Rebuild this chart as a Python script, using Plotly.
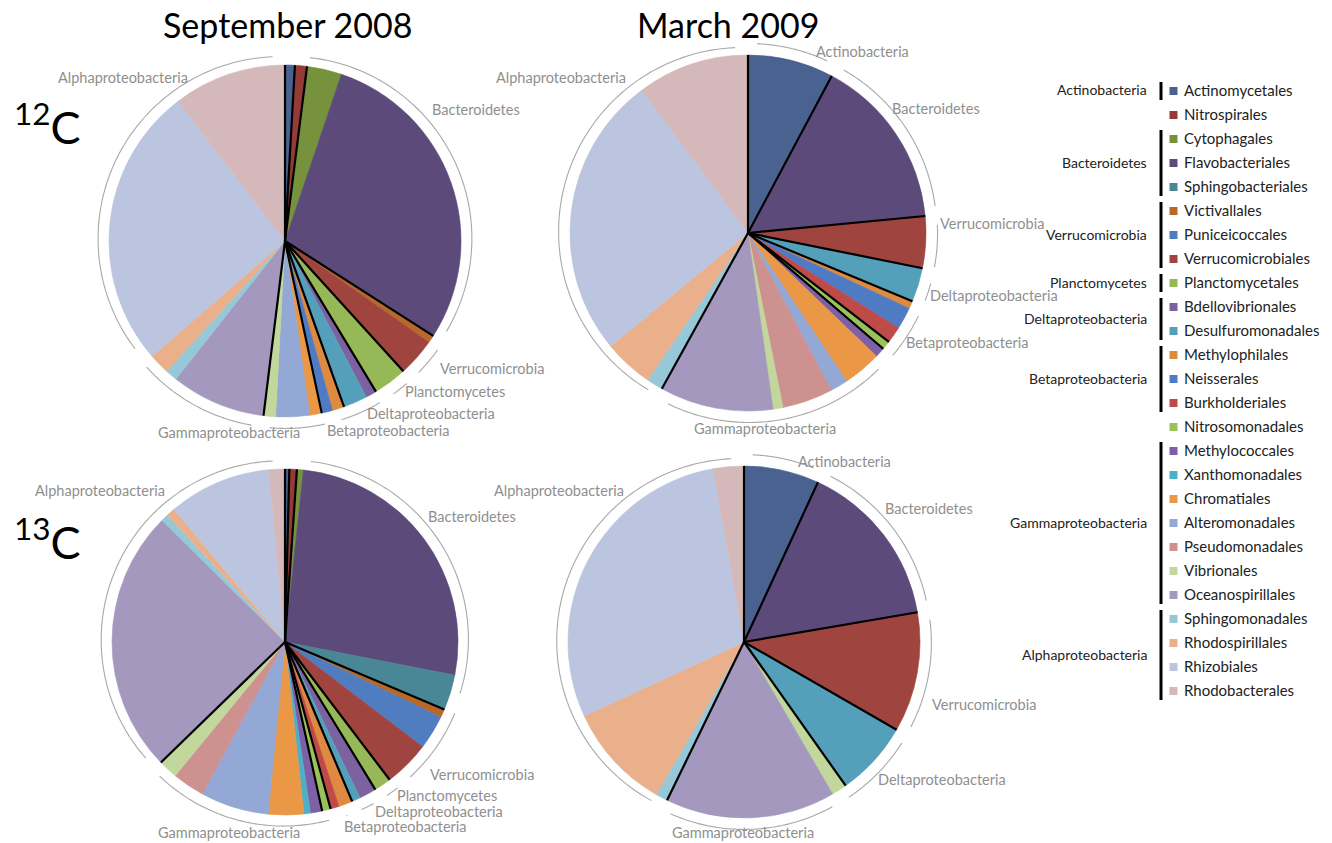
import math
import plotly.graph_objects as go

W, H = 1332, 843          # browser window (page margin removed by post_script)
FONT = "Lato"


def px(x):
    return x / W


def py(y):
    return 1 - y / H


# ---------------- data ----------------
ORDERS = ["Actinomycetales", "Nitrospirales", "Cytophagales", "Flavobacteriales",
          "Sphingobacteriales", "Victivallales", "Puniceicoccales", "Verrucomicrobiales",
          "Planctomycetales", "Bdellovibrionales", "Desulfuromonadales", "Methylophilales",
          "Neisserales", "Burkholderiales", "Nitrosomonadales", "Methylococcales",
          "Xanthomonadales", "Chromatiales", "Alteromonadales", "Pseudomonadales",
          "Vibrionales", "Oceanospirillales", "Sphingomonadales", "Rhodospirillales",
          "Rhizobiales", "Rhodobacterales"]

PHYLUM_OF_ORDER = ["Actinobacteria", None,
                   "Bacteroidetes", "Bacteroidetes", "Bacteroidetes",
                   "Verrucomicrobia", "Verrucomicrobia", "Verrucomicrobia",
                   "Planctomycetes",
                   "Deltaproteobacteria", "Deltaproteobacteria",
                   "Betaproteobacteria", "Betaproteobacteria", "Betaproteobacteria",
                   None,
                   "Gammaproteobacteria", "Gammaproteobacteria", "Gammaproteobacteria",
                   "Gammaproteobacteria", "Gammaproteobacteria", "Gammaproteobacteria",
                   "Gammaproteobacteria",
                   "Alphaproteobacteria", "Alphaproteobacteria", "Alphaproteobacteria",
                   "Alphaproteobacteria"]

PHYLA = ["Actinobacteria", "Bacteroidetes", "Verrucomicrobia", "Planctomycetes",
         "Deltaproteobacteria", "Betaproteobacteria", "Gammaproteobacteria",
         "Alphaproteobacteria"]

# order-level composition (% of clones), clockwise from 12 o'clock
SEP_12C = [0.9, 1.1, 3.2, 28.9, 0, 0.7, 0, 3.5, 3.1, 1.0, 2.2, 1.1, 1.0, 0, 0, 0, 0,
           1.1, 3.1, 0, 1.1, 8.7, 1.1, 1.9, 26.0, 10.4]
MAR_12C = [7.8, 0, 0, 15.7, 0, 0, 0, 4.7, 0, 0, 3.1, 0.7, 2.0, 1.5, 0.8, 0.9, 0,
           3.5, 1.6, 4.6, 0.9, 10.3, 1.5, 4.5, 25.8, 10.2]
SEP_13C = [0.4, 0.7, 0.6, 26.4, 3.3, 0.8, 3.2, 4.3, 1.6, 1.6, 0.8, 1.3, 0, 0.8, 0.8,
           1.1, 0.6, 3.3, 6.4, 3.0, 1.8, 24.7, 0.7, 0.8, 9.6, 1.5]
MAR_13C = [6.9, 0, 0, 15.4, 0, 0, 0, 11.0, 0, 0, 6.9, 0, 0, 0, 0, 0, 0, 0, 0, 0,
           1.4, 15.6, 1.1, 9.8, 29.1, 2.8]

# phylum-level outer ring (% , order of PHYLA)
RING_SEP_12C = [1.1, 33.1, 3.9, 2.8, 5.0, 6.2, 12.0, 36.0]
RING_MAR_12C = [7.6, 16.0, 5.0, 0, 2.9, 5.4, 21.0, 42.1]
RING_SEP_13C = [1.25, 29.3, 8.3, 2.5, 2.5, 1.4, 17.6, 37.15]
RING_MAR_13C = [6.8, 15.5, 11.0, 0, 8.0, 0, 16.0, 42.7]

# phylum outlines (black radial lines) in the September pies group Oceanospirillales with Alpha
OUTLINE_REASSIGN = {"Sep": {"Oceanospirillales": "Alphaproteobacteria"}}

TITLES = ["September 2008", "March 2009"]
ISOTOPES = ["12", "13"]

# ---------------- styles ----------------
ORDER_COLORS = ["#4A6290", "#943A37", "#76923C", "#5C4A7A", "#4A8796", "#B7692B",
                "#4F7DBF", "#A0443F", "#97B857", "#7D62A0", "#549FBA", "#DE8A40",
                "#4F7BC4", "#BE4B48", "#9BC25A", "#7E60A6", "#4DB0C8", "#EA9746",
                "#93A8D4", "#CD9190", "#C2D79C", "#A598BE", "#97C8D8", "#EAB08C",
                "#BCC5DF", "#D5B9BA"]
LABEL_GREY = "#8F8F8F"
R_MAX = 1.10

# label placement (theta deg clockwise from top, radius in pie units, anchor side)
LABELS_SEP_12C = [("Alphaproteobacteria", 329.9, 1.077, "right"),
                  ("Bacteroidetes", 47.7, 1.114, "left"),
                  ("Verrucomicrobia", 129.7, 1.13, "left"),
                  ("Planctomycetes", 141.8, 1.085, "left"),
                  ("Deltaproteobacteria", 155.1, 1.078, "left"),
                  ("Betaproteobacteria", 168.1, 1.098, "left"),
                  ("Gammaproteobacteria", 196.3, 1.131, "center")]
LABELS_MAR_12C = [("Actinobacteria", 19.9, 1.085, "left"),
                  ("Alphaproteobacteria", 322.3, 1.105, "right"),
                  ("Bacteroidetes", 48.7, 1.06, "left"),
                  ("Verrucomicrobia", 87.1, 1.067, "left"),
                  ("Deltaproteobacteria", 109.1, 1.068, "left"),
                  ("Betaproteobacteria", 125.1, 1.069, "left"),
                  ("Gammaproteobacteria", 175.1, 1.101, "center")]
LABELS_SEP_13C = [("Alphaproteobacteria", 322.1, 1.111, "right"),
                  ("Bacteroidetes", 48.3, 1.092, "left"),
                  ("Verrucomicrobia", 132.8, 1.126, "left"),
                  ("Planctomycetes", 144.3, 1.09, "left"),
                  ("Deltaproteobacteria", 152.5, 1.103, "left"),
                  ("Betaproteobacteria", 162.8, 1.115, "left"),
                  ("Gammaproteobacteria", 196.4, 1.147, "center")]
LABELS_MAR_13C = [("Actinobacteria", 16.1, 1.066, "left"),
                  ("Alphaproteobacteria", 322.1, 1.09, "right"),
                  ("Bacteroidetes", 46.2, 1.094, "left"),
                  ("Verrucomicrobia", 108.6, 1.115, "left"),
                  ("Deltaproteobacteria", 136.2, 1.084, "left"),
                  ("Gammaproteobacteria", 180.3, 1.084, "center")]

PIES = [
    dict(sub="polar", values=SEP_12C, ring=RING_SEP_12C, season="Sep", cx=285, cy=241, R=176, labels=LABELS_SEP_12C),
    dict(sub="polar2", values=MAR_12C, ring=RING_MAR_12C, season="Mar", cx=748, cy=233, R=178, labels=LABELS_MAR_12C),
    dict(sub="polar3", values=SEP_13C, ring=RING_SEP_13C, season="Sep", cx=285, cy=642, R=173, labels=LABELS_SEP_13C),
    dict(sub="polar4", values=MAR_13C, ring=RING_MAR_13C, season="Mar", cx=744, cy=642, R=176, labels=LABELS_MAR_13C),
]


def cumulative(values):
    tot = float(sum(values))
    out, c = [], 0.0
    for v in values:
        a0 = c / tot * 360.0
        c += v
        out.append((a0, c / tot * 360.0))
    return out


def ring_arc(a0, a1, ra=1.035, d=0.03, trim=2.4, n=80):
    if a1 - a0 <= 2 * trim:
        return [], []
    m = math.radians((a0 + a1) / 2)
    rs, ts = [], []
    for k in range(n):
        t = math.radians(a0 + trim + (a1 - a0 - 2 * trim) * k / (n - 1))
        x = d * math.sin(m) + ra * math.sin(t)
        y = d * math.cos(m) + ra * math.cos(t)
        rs.append(math.hypot(x, y))
        ts.append(math.degrees(math.atan2(x, y)) % 360)
    return rs, ts


def clamp01(v):
    return min(1.0, max(0.0, v))


fig = go.Figure()
layout_polars = {}
annotations = []
shapes = []

for p in PIES:
    sub = p["sub"]
    spans = cumulative(p["values"])
    # slices
    th, wd, cols, names = [], [], [], []
    for i, (a0, a1) in enumerate(spans):
        if a1 - a0 <= 0:
            continue
        th.append((a0 + a1) / 2)
        wd.append(a1 - a0)
        cols.append(ORDER_COLORS[i])
        names.append(ORDERS[i])
    fig.add_trace(go.Barpolar(r=[1] * len(th), theta=th, width=wd, base=0,
                              marker=dict(color=cols, line=dict(color=cols, width=0.6)),
                              hovertext=names, hoverinfo="text", subplot=sub, showlegend=False))
    # black phylum outlines
    reassign = OUTLINE_REASSIGN.get(p["season"], {})
    nz = [i for i, (a0, a1) in enumerate(spans) if a1 - a0 > 0]
    grp = {i: reassign.get(ORDERS[i], PHYLUM_OF_ORDER[i] or ORDERS[i]) for i in nz}
    lr, lt = [], []
    for k, i in enumerate(nz):
        prev = nz[k - 1]
        if grp[prev] != grp[i]:
            ang = spans[i][0]
            lr += [0, 1, None]
            lt += [ang, ang, None]
    fig.add_trace(go.Scatterpolar(r=lr, theta=lt, mode="lines",
                                  line=dict(color="black", width=2.2),
                                  hoverinfo="skip", subplot=sub, showlegend=False))
    # outer grey phylum brackets
    rr, rt = [], []
    for (a0, a1) in cumulative(p["ring"]):
        r_, t_ = ring_arc(a0, a1)
        if r_:
            rr += r_ + [None]
            rt += t_ + [None]
    fig.add_trace(go.Scatterpolar(r=rr, theta=rt, mode="lines",
                                  line=dict(color="#A8A8A8", width=1.1),
                                  hoverinfo="skip", subplot=sub, showlegend=False))
    # phylum labels (placed around the pie)
    for text, theta, rad, side in p["labels"]:
        t = math.radians(theta)
        lx = p["cx"] + rad * p["R"] * math.sin(t)
        ly = p["cy"] - rad * p["R"] * math.cos(t)
        annotations.append(dict(text=text, x=px(lx), y=py(ly), xref="paper", yref="paper",
                                xanchor=side, yanchor="middle", showarrow=False,
                                font=dict(family=FONT, size=14.5, color=LABEL_GREY)))
    half = p["R"] * R_MAX
    layout_polars[sub] = dict(
        domain=dict(x=[clamp01(px(p["cx"] - half)), clamp01(px(p["cx"] + half))],
                    y=[clamp01(py(p["cy"] + half)), clamp01(py(p["cy"] - half))]),
        bgcolor="rgba(0,0,0,0)", bargap=0, hole=0,
        radialaxis=dict(range=[0, R_MAX], visible=False, showgrid=False, showline=False,
                        showticklabels=False, ticks=""),
        angularaxis=dict(visible=False, rotation=90, direction="clockwise",
                         showgrid=False, showline=False, showticklabels=False, ticks=""))

# column titles and row labels
for title, xc in zip(TITLES, [287, 728]):
    annotations.append(dict(text=title, x=px(xc), y=py(24), xref="paper", yref="paper",
                            xanchor="center", yanchor="middle", showarrow=False,
                            font=dict(family=FONT, size=34, color="black")))
for iso, yc in zip(ISOTOPES, [124, 539]):
    annotations.append(dict(text="<sup>%s</sup>C" % iso, x=px(12), y=py(yc),
                            xref="paper", yref="paper", xanchor="left", yanchor="middle",
                            showarrow=False, font=dict(family=FONT, size=45, color="black")))

# custom grouped legend
ROW0, ROW_STEP = 90, 24
for i, (name, col) in enumerate(zip(ORDERS, ORDER_COLORS)):
    y = ROW0 + ROW_STEP * i
    shapes.append(dict(type="rect", xref="paper", yref="paper",
                       x0=px(1169.5), x1=px(1177.5), y0=py(y + 5), y1=py(y - 3),
                       fillcolor=col, line=dict(width=0)))
    annotations.append(dict(text=name, x=px(1182), y=py(y), xref="paper", yref="paper",
                            xanchor="left", yanchor="middle", showarrow=False,
                            font=dict(family=FONT, size=15, color="#222222")))
for ph in PHYLA:
    rows = [i for i, g in enumerate(PHYLUM_OF_ORDER) if g == ph]
    y_first, y_last = ROW0 + ROW_STEP * rows[0], ROW0 + ROW_STEP * rows[-1]
    shapes.append(dict(type="line", xref="paper", yref="paper",
                       x0=px(1161), x1=px(1161), y0=py(y_first - 8), y1=py(y_last + 10),
                       line=dict(color="black", width=3)))
    annotations.append(dict(text=ph, x=px(1149), y=py((y_first + y_last) / 2),
                            xref="paper", yref="paper", xanchor="right", yanchor="middle",
                            showarrow=False, font=dict(family=FONT, size=14, color="#222222")))

fig.update_layout(width=W, height=H, margin=dict(l=0, r=0, t=0, b=0),
                  paper_bgcolor="white", plot_bgcolor="white", showlegend=False,
                  annotations=annotations, shapes=shapes, **layout_polars)

fig.write_html("out.html", config={"displayModeBar": False},
               post_script="document.body.style.margin='0px';document.body.style.overflow='hidden';")
